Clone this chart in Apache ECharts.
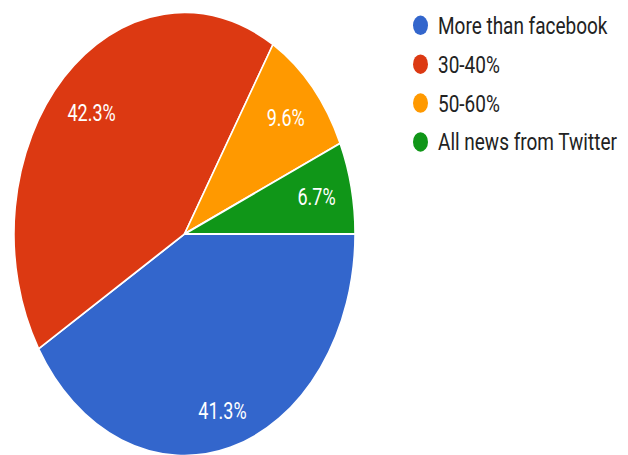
<!DOCTYPE html>
<html>
<head>
<meta charset="utf-8">
<title>News sources</title>
<script src="https://cdn.jsdelivr.net/npm/echarts@6/dist/echarts.min.js"></script>
<style>
  html, body { margin: 0; padding: 0; background: #ffffff; }
  #stage { width: 628px; height: 455px; overflow: hidden; position: relative; }
  /* the chart is drawn 350px tall and stretched vertically into an oval */
  #chart { width: 628px; height: 350px; transform: scaleY(1.3); transform-origin: 0 0; }
</style>
</head>
<body>
<div id="stage"><div id="chart"></div></div>
<script>
const categories = ['More than facebook', '30-40%', '50-60%', 'All news from Twitter'];
const shares = [41.3, 42.3, 9.6, 6.7];
const palette = ['#3366cc', '#dc3912', '#ff9900', '#109618'];

// pie geometry (in the unstretched drawing space)
const PIE_CX = 184.5;
const PIE_CY = 180;
const PIE_R = 170.5;
// each slice label sits at this fraction of the radius
const labelRadius = [0.80, 0.745, 0.765, 0.765];

const chart = echarts.init(document.getElementById('chart'), null, { renderer: 'svg' });

chart.setOption({
  animation: false,
  backgroundColor: '#ffffff',
  color: palette,
  legend: {
    orient: 'vertical',
    left: 413,
    top: 10,
    padding: 0,
    icon: 'path://M50,0A50,50 0 1,1 50,100A50,50 0 1,1 50,0Z',
    itemWidth: 19,
    itemHeight: 15,
    itemGap: 10.9,
    itemStyle: { borderWidth: 0 },
    textStyle: {
      fontFamily: 'Roboto',
      fontSize: 19,
      color: '#222222',
      padding: [0, 0, 0, 3]
    },
    data: categories
  },
  series: [{
    type: 'pie',
    center: [PIE_CX, PIE_CY],
    radius: [0, PIE_R],
    startAngle: 0,
    clockwise: true,
    avoidLabelOverlap: false,
    itemStyle: { borderColor: '#ffffff', borderWidth: 1.5 },
    emphasis: { disabled: true },
    label: {
      show: true,
      position: 'inside',
      color: '#ffffff',
      fontFamily: 'Roboto',
      fontSize: 18,
      formatter: p => p.value.toFixed(1) + '%'
    },
    labelLine: { show: false },
    labelLayout: function (params) {
      const r = params.labelRect;
      const lx = r.x + r.width / 2;
      const ly = r.y + r.height / 2;
      const k = labelRadius[params.dataIndex] / 0.5 - 1;
      return { dx: (lx - PIE_CX) * k, dy: (ly - PIE_CY) * k };
    },
    data: categories.map((name, i) => ({ name: name, value: shares[i] }))
  }]
});
</script>
</body>
</html>
